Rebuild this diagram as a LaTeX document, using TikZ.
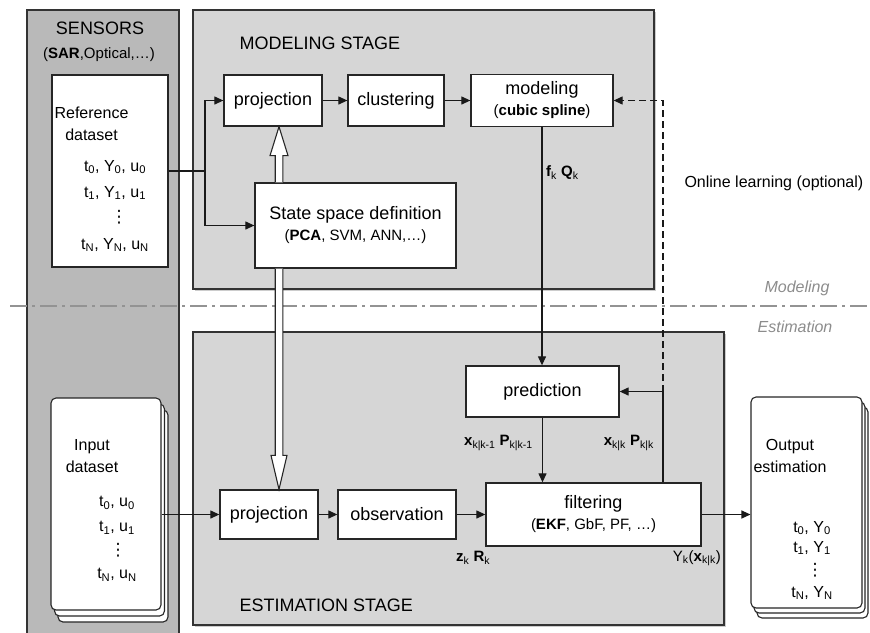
\documentclass[tikz,border=0pt]{standalone}
\usepackage{fontspec}
\setmainfont{Liberation Sans}
\newfontfamily\dotsfont{DejaVu Sans}
\usetikzlibrary{shadows}
\usetikzlibrary{positioning}
\usetikzlibrary{arrows.meta}
\usetikzlibrary{calc}

\begin{document}
\begin{tikzpicture}
  [x=1pt,y=-1pt,
   box/.style={draw=black!85,line width=1.3pt,fill=white,inner sep=0pt,align=center,font=\fontsize{18}{21}\selectfont},
   page/.style={draw=black!85,line width=1.1pt,fill=white,rounded corners=5pt},
   stage/.style={draw=black!80,line width=1.3pt,fill=gray!32,drop shadow={shadow xshift=1.5pt,shadow yshift=-2pt,opacity=0.4}},
   arr/.style={-{Triangle[length=9pt,width=8pt]},line width=1.2pt,draw=black!90},
   hollow/.style={draw=black!85,line width=1.1pt,fill=white},
   sepline/.style={draw=gray!85,line width=1.4pt,dash pattern=on 17pt off 5pt on 3pt off 5pt},
   txt/.style={align=center,inner sep=0pt,font=\fontsize{16}{22}\selectfont},
   vdot/.style={inner sep=0pt,font=\dotsfont\fontsize{17}{17}\selectfont},
   lbl/.style={inner sep=0pt,font=\fontsize{15}{16}\selectfont}]
  \useasboundingbox (0,0) rectangle (870,632);

  \filldraw[fill=gray!55,draw=black!80,line width=1.3pt] (27,10) rectangle (179,645);
  \draw[stage] (193,10) rectangle (654,289);
  \draw[stage] (193,332) rectangle (724,625);

  \coordinate (sepL) at (10,306);
  \coordinate (sepR) at (872,306);
  \draw[sepline] (sepL) -- (sepR);

  \node[font=\fontsize{18}{20}\selectfont] (sens) at (100,28) {SENSORS};
  \node[font=\fontsize{15}{18}\selectfont] (senssub) at (99,55) {(\textbf{SAR},Optical,\dots)};
  \node[anchor=west,font=\fontsize{18}{20}\selectfont] (mtitle) at (236,43) {MODELING STAGE};
  \node[anchor=west,font=\fontsize{18}{20}\selectfont] (etitle) at (236,605) {ESTIMATION STAGE};
  \node[font=\fontsize{16}{19}\selectfont\itshape,text=gray!90] (modlbl) at (797,288) {Modeling};
  \node[font=\fontsize{16}{19}\selectfont\itshape,text=gray!90] (estlbl) at (795,327) {Estimation};
  \node[anchor=west,font=\fontsize{16}{19}\selectfont] (online) at (681,183) {Online learning (optional)};

  \node[box,minimum width=116pt,minimum height=192pt] (refds) at (110,171) {};
  \node[txt] (reftxt) at (91.5,124) {Reference\\dataset};
  \node[txt,font=\fontsize{16}{26}\selectfont] (refdata) at (115,180) {t\textsubscript{0}, Y\textsubscript{0}, u\textsubscript{0}\\
    t\textsubscript{1}, Y\textsubscript{1}, u\textsubscript{1}};
  \node[vdot] (refdots) at (119,217) {⋮};
  \node[txt] (refdataN) at (115,245) {t\textsubscript{N}, Y\textsubscript{N}, u\textsubscript{N}};

  \node[page,minimum width=110pt,minimum height=212pt] (in3) at (113,516) {};
  \node[page,minimum width=110pt,minimum height=212pt] (in2) at (109.5,510) {};
  \node[page,minimum width=110pt,minimum height=212pt] (input) at (106,504) {};
  \node[txt] (intxt) at (92,456.5) {Input\\dataset};
  \node[txt,font=\fontsize{16}{25}\selectfont] (indata) at (117,515.5) {t\textsubscript{0}, u\textsubscript{0}\\
    t\textsubscript{1}, u\textsubscript{1}};
  \node[vdot] (indots) at (118,550) {⋮};
  \node[txt] (indataN) at (117,575) {t\textsubscript{N}, u\textsubscript{N}};

  \node[page,minimum width=111pt,minimum height=211pt] (out3) at (812.5,512.5) {};
  \node[page,minimum width=111pt,minimum height=211pt] (out2) at (809.5,507.5) {};
  \node[page,minimum width=111pt,minimum height=211pt] (output) at (806.5,502.5) {};
  \node[txt] (outtxt) at (790,456) {Output\\estimation};
  \node[txt,font=\fontsize{16}{20}\selectfont] (outdata) at (812,538) {t\textsubscript{0}, Y\textsubscript{0}\\
    t\textsubscript{1}, Y\textsubscript{1}};
  \node[vdot] (outdots) at (815,570) {⋮};
  \node[txt] (outdataN) at (812,593) {t\textsubscript{N}, Y\textsubscript{N}};

  \node[box,minimum width=98pt,minimum height=51pt] (proj1) at (273,100.5) {projection};
  \node[box,minimum width=96pt,minimum height=51pt] (clust) at (396,100.5) {clustering};
  \node[box,minimum width=142pt,minimum height=52pt] (model) at (542,100.5) {modeling\\{\fontsize{15}{17}\selectfont(\textbf{cubic spline})}};
  \node[box,minimum width=201pt,minimum height=85pt] (ssd) at (355.5,225.5) {State space definition\\{\fontsize{15}{17}\selectfont(\textbf{PCA}, SVM, ANN,\dots)}};
  \node[box,minimum width=98pt,minimum height=49pt] (proj2) at (269,514.5) {projection};
  \node[box,minimum width=118pt,minimum height=49pt] (obs) at (397,514.5) {observation};
  \node[box,minimum width=153pt,minimum height=51pt] (pred) at (542.5,391.5) {prediction};
  \node[box,minimum width=215pt,minimum height=63pt] (filt) at (593.5,514.5) {filtering\\{\fontsize{15}{17}\selectfont(\textbf{EKF}, GbF, PF, \dots)}};

  \node[lbl,anchor=west] (fq) at (546,173) {\textbf{f}\textsubscript{k} \textbf{Q}\textsubscript{k}};
  \node[lbl,anchor=east] (xp1) at (533,443) {\textbf{x}\textsubscript{k|k-1} \textbf{P}\textsubscript{k|k-1}};
  \node[lbl,anchor=east] (xp2) at (654,443) {\textbf{x}\textsubscript{k|k} \textbf{P}\textsubscript{k|k}};
  \node[lbl,anchor=west] (zr) at (456,558) {\textbf{z}\textsubscript{k} \textbf{R}\textsubscript{k}};
  \node[lbl,anchor=east] (yk) at (721,558) {Y\textsubscript{k}(\textbf{x}\textsubscript{k|k})};

  \coordinate (split) at (205,171);
  \draw[arr] (refds.east) -- (split) |- (proj1.west);
  \draw[arr] (split) |- (ssd.west);
  \draw[arr] (proj1) -- (clust);
  \draw[arr] (clust) -- (model);
  \draw[arr] (model.south) -- (model.south |- pred.north);
  \draw[arr] (pred.south) -- (pred.south |- filt.north);
  \coordinate (fb) at (663,391.5);
  \draw[line width=1.2pt,draw=black!90] (filt.north -| fb) -- (fb);
  \draw[arr] (fb) -- (pred.east);
  \draw[arr,dash pattern=on 7pt off 4pt] (fb) -- (fb |- model.east) -- (model.east);
  \draw[arr] (proj2.west -| input.east) -- (proj2.west);
  \draw[arr] (proj2) -- (obs);
  \draw[arr] (obs) -- (filt);
  \draw[arr] (filt.east) -- (filt.east -| output.west);

  \coordinate (dblx) at (279,0);
  \coordinate (h1s) at (ssd.north -| dblx);
  \coordinate (h1e) at (proj1.south -| dblx);
  \draw[hollow] ($(h1s)+(-3.8,0)$) -- ($(h1e)+(-3.8,29)$) -- ($(h1e)+(-9,29)$) -- (h1e)
    -- ($(h1e)+(9,29)$) -- ($(h1e)+(3.8,29)$) -- ($(h1s)+(3.8,0)$);
  \coordinate (h2s) at (ssd.south -| dblx);
  \coordinate (h2e) at (proj2.north -| dblx);
  \draw[hollow] ($(h2s)+(-3.8,0)$) -- ($(h2e)+(-3.8,-34)$) -- ($(h2e)+(-8,-34)$) -- (h2e)
    -- ($(h2e)+(8,-34)$) -- ($(h2e)+(3.8,-34)$) -- ($(h2s)+(3.8,0)$);
\end{tikzpicture}
\end{document}
